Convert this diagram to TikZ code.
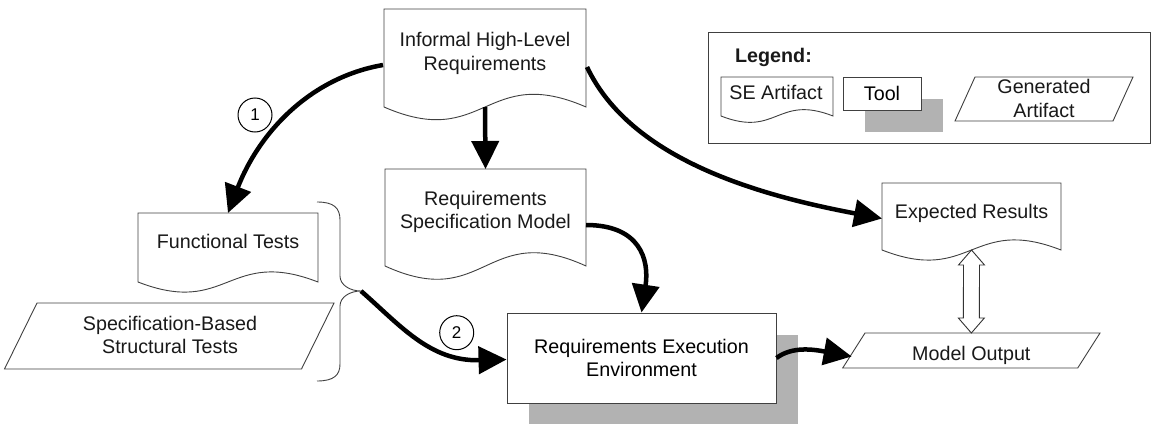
\documentclass[tikz,border=0pt]{standalone}
\usepackage{fontspec}
\setmainfont{Liberation Sans}
\usetikzlibrary{calc,arrows.meta,shadows}
\tikzset{
  shapeline/.style={draw=black!75, line width=0.9pt, fill=white},
  box/.style={draw=none, inner sep=0pt, outer sep=0pt},
  txt/.style={align=center, inner sep=0pt, text=black!90},
  one/.style={text height=14.2pt, text depth=0pt},
  arr/.style={line width=4.5pt, black, -{Triangle[length=28pt,width=27pt]}},
  tshadow/.style={drop shadow={shadow xshift=22pt, shadow yshift=-22pt, fill=black!30, opacity=1}},
  bracel/.style={draw=black!75, line width=0.9pt},
  numcirc/.style={circle, draw=black, line width=1pt, minimum size=34pt, inner sep=0pt, font=\fontsize{17}{17}\selectfont},
  dbl/.style={draw=black!80, line width=0.9pt, fill=white, line join=miter},
}
\newcommand{\docshape}[2]{%
  \draw[shapeline] (#1.south west) -- (#1.north west) -- (#1.north east) -- (#1.south east)
    .. controls ($(#1.south)+(0,-#2)$) and ($(#1.south)+(0,#2)$) .. (#1.south west) -- cycle;}
\newcommand{\paral}[2]{%
  \draw[shapeline] (#1.south west) -- ($(#1.north west)+(#2,0)$) -- (#1.north east) -- ($(#1.south east)+(-#2,0)$) -- cycle;}
\begin{document}
\begin{tikzpicture}[x=1pt,y=-1pt, font=\fontsize{19.7}{23.3}\selectfont]
\useasboundingbox (0,0) rectangle (1151,423);

% Legend
\node[box, draw=black!75, line width=0.9pt, minimum width=442pt, minimum height=111pt] (leg) at (929,87.5) {};
\node[txt, one, font=\fontsize{19.7}{23.3}\selectfont\bfseries] (legt) at (773.5,55) {Legend:};
\node[box, minimum width=112pt, minimum height=39pt] (lse) at (777,96.5) {};
\docshape{lse}{22}
\node[txt, one] (lset) at (776,92) {SE Artifact};
\node[shapeline, tshadow, inner sep=0pt, minimum width=78pt, minimum height=33pt, one] (ltool) at (882,93.5) {Tool};
\node[box, minimum width=178pt, minimum height=44pt] (lga) at (1044,99) {};
\paral{lga}{20}
\node[txt] (lgat) at (1044,98.5) {Generated\\Artifact};

% Informal High-Level Requirements
\node[box, minimum width=202pt, minimum height=98pt] (inf) at (485,58) {};
\docshape{inf}{44}
\node[txt] (inft) at (485,53.5) {Informal High-Level\\Requirements};

% Requirements Specification Model
\node[box, minimum width=201pt, minimum height=97pt] (rsm) at (485.5,217.5) {};
\docshape{rsm}{46}
\node[txt] (rsmt) at (485.5,212) {Requirements\\Specification Model};

% Functional Tests
\node[box, minimum width=180pt, minimum height=69pt] (ft) at (228,247.5) {};
\docshape{ft}{35}
\node[txt, one] (ftt) at (228,241.7) {Functional Tests};

% Specification-Based Structural Tests
\node[box, minimum width=329.5pt, minimum height=66pt] (sbst) at (169.25,336) {};
\paral{sbst}{32.5}
\node[txt] (sbstt) at (170,335) {Specification-Based\\Structural Tests};

% brace
\coordinate (bt) at (361,291);
\draw[bracel] (317,202) .. controls (334,202) and (340,208) .. (340,220) -- (340,276)
  .. controls (340,285) and (350,291) .. (bt)
  .. controls (350,291) and (340,297) .. (340,306) -- (340,364)
  .. controls (340,375) and (334,381) .. (317,381);

% Requirements Execution Environment
\node[shapeline, tshadow, inner sep=0pt, align=center, minimum width=269pt, minimum height=90pt] (ree) at (641.5,358) {Requirements Execution\\Environment};

% Expected Results
\node[box, minimum width=179pt, minimum height=67pt] (er) at (971.5,216.5) {};
\docshape{er}{35}
\node[txt, one] (ert) at (971.5,211.7) {Expected Results};

% Model Output
\node[box, minimum width=257.3pt, minimum height=35pt] (mo) at (971.35,350.5) {};
\paral{mo}{22.3}
\node[txt, one] (mot) at (971.35,353) {Model Output};

% double arrow
\draw[dbl] (er.south) -- ++(13,15) -- ++(-5,0) -- ($(mo.north)+(8,-15)$) -- ++(5,0) -- (mo.north)
  -- ++(-13,-15) -- ++(5,0) -- ($(er.south)+(-8,15)$) -- ++(-5,0) -- cycle;

% arrows
\draw[arr] ($(inf.west)+(-1,7)$) .. controls +(-75,13) and +(30,-78) .. (ft.north);
\draw[arr] (inf.south) -- (rsm.north);
\draw[arr] ($(inf.east)+(1,9)$) .. controls +(44,93) and +(-122,-23) .. ($(er.west)+(0,2)$);
\draw[arr] ($(rsm.east)+(0,7.5)$) .. controls +(54,0) and +(8,-53) .. (ree.north);
\draw[arr] (bt) .. controls +(39,34) and +(-77,2) .. ($(ree.west)+(0,1.5)$);
\draw[arr] (ree.east) .. controls +(16,-12) and +(-38,-7) .. ($(mo.west)+(9,6)$);

% step numbers
\node[numcirc] (n1) at (255,115) {1};
\node[numcirc] (n2) at (456.7,332.7) {2};
\end{tikzpicture}
\end{document}
